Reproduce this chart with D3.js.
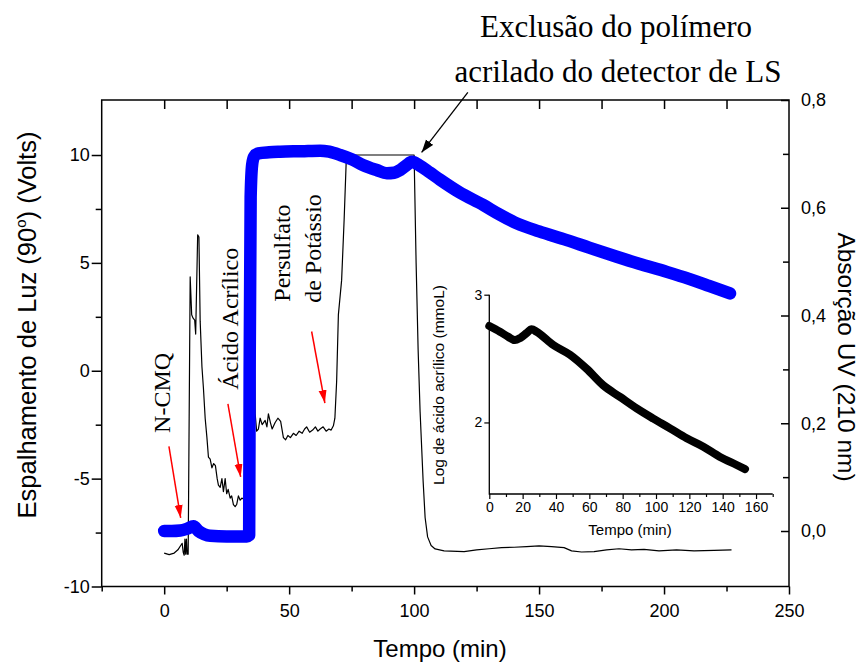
<!DOCTYPE html>
<html>
<head>
<meta charset="utf-8">
<script src="https://cdn.jsdelivr.net/npm/d3@7"></script>
<style>
  body { margin: 0; background: #fff; }
</style>
</head>
<body>
<script>
// light scattering signal, left axis (Volts)
const lsTime = [0, 2, 4, 5.5, 6.6, 7.2, 7.6, 8.0, 8.3, 8.6, 8.9, 9.2, 9.6, 10.4, 11.0, 11.5, 12.2, 12.6, 13.4, 13.9,
  14.4, 15.1, 15.7, 16.4, 17.1, 17.7, 18.4, 19.1, 19.8, 20.5, 21.2, 21.7, 22.4, 23.1, 23.7, 24.4, 25.0, 25.6, 26.4, 27.0,
  27.7, 28.4, 29.0, 29.7, 30.4, 31.1, 31.7, 33.0, 34.2, 34.6, 35.6, 36.4, 37.0, 37.7, 38.4, 39.2, 40.4, 41.1, 41.7, 42.5,
  43.2, 44.4, 45.5, 46.6, 47.7, 48.6, 49.5, 50.5, 51.7, 52.8, 54, 55.2, 56.2, 57, 58.2, 59.4, 60.5, 61.5, 62.4, 63.6,
  64.8, 65.9, 66.8, 67.7, 68.3, 69.0, 69.7, 71.0, 72.0, 72.8, 73.2, 100, 100.8, 101.6, 102.4, 103.6, 104.4, 105.4, 106.8, 108.4,
  112, 120, 125, 130, 135, 140, 145, 150, 155, 160, 163, 167, 172, 177, 182, 187, 192, 198, 205, 212, 220, 227];
const lsVolts = [-8.45, -8.52, -8.45, -8.3, -8.1, -8.0, -8.4, -8.55, -7.8, -8.5, -7.8, -8.5, -8.5, 4.35, 2.6, 2.45, 2.35, 1.7, 6.3, 6.2,
  2.3, 0.2, -0.8, -2.2, -3.1, -4.0, -4.1, -4.5, -4.3, -4.4, -5.0, -5.3, -5.4, -5.0, -5.6, -5.0, -5.7, -5.5, -5.9, -5.8,
  -6.2, -6.3, -6.2, -5.8, -6.0, -5.9, -5.95, -5.9, -5.8, 10, 10, -2.0, -2.8, -2.7, -2.2, -2.5, -2.3, -2.6, -2.0, -2.4,
  -2.7, -2.4, -2.2, -2.35, -3.1, -3.2, -3.0, -3.1, -2.9, -3.0, -2.8, -2.9, -2.7, -2.6, -2.85, -2.75, -2.6, -2.8, -2.7, -2.6,
  -2.8, -2.7, -2.75, -2.55, -2.2, -0.5, 2.6, 4.2, 7.0, 9.6, 10, 10, 5, 1, -1.9, -5.1, -6.8, -7.7, -8.1, -8.26,
  -8.35, -8.38, -8.3, -8.25, -8.2, -8.18, -8.15, -8.12, -8.15, -8.2, -8.35, -8.4, -8.38, -8.3, -8.25, -8.3, -8.28, -8.35, -8.3, -8.35, -8.33, -8.3];

// UV absorption at 210 nm, right axis
const uvTime = [0, 3, 6.4, 9, 11.7, 13.7, 16, 18.4, 25, 33.1, 34, 34.2, 34.6, 35.2, 36, 37.7, 42, 46.4, 55, 62.4,
  66, 70.4, 75, 79.7, 85, 89.1, 92, 94.4, 97, 99.1, 102, 106.4, 110.4, 118, 127.7, 134, 141.1, 150, 161.1, 170,
  181.1, 190, 201.1, 210, 218, 226.4];
const uvAbs = [0, 0, 0.001, 0.004, 0.009, 0.0, -0.006, -0.009, -0.010, -0.010, -0.008, 0.3, 0.62, 0.68, 0.695, 0.701, 0.703, 0.704, 0.705, 0.706,
  0.704, 0.698, 0.69, 0.679, 0.670, 0.664, 0.665, 0.670, 0.679, 0.6855, 0.679, 0.665, 0.652, 0.629, 0.605, 0.588, 0.571, 0.556, 0.540, 0.526,
  0.509, 0.496, 0.481, 0.468, 0.455, 0.441];

// inset: log of acrylic acid
const insetTime = [0, 6.4, 11.4, 15.4, 18.4, 22.4, 25.4, 28.4, 38.4, 48.4, 58.4, 68.4, 78.4, 88.4, 98.4, 108.4, 118.4, 128.4, 138.4, 148.4, 153.4];
const insetLog = [2.755, 2.71, 2.67, 2.645, 2.66, 2.70, 2.73, 2.71, 2.606, 2.53, 2.42, 2.29, 2.20, 2.11, 2.03, 1.954, 1.876, 1.81, 1.73, 1.667, 1.635];

const xTickLabels = [0, 50, 100, 150, 200, 250];
const xMinorTicks = [-25, 25, 75, 125, 175, 225];
const topTicks = [0, 25, 50, 75, 100, 125, 150, 175, 200, 225];
const yLeftTicks = [-10, -5, 0, 5, 10];
const yLeftMinor = [-7.5, -2.5, 2.5, 7.5];
const yRightTicks = [0, 0.2, 0.4, 0.6, 0.8];
const yRightMinor = [0.1, 0.3, 0.5, 0.7];
const insetXTicks = [0, 20, 40, 60, 80, 100, 120, 140, 160];
const insetXMinor = [10, 30, 50, 70, 90, 110, 130, 150, 170];
const insetYTicks = [2, 3];

const sans = '"Liberation Sans", Arial, sans-serif';
const serif = '"Liberation Serif", "Times New Roman", serif';

const svg = d3.select('body').append('svg')
    .attr('width', 861)
    .attr('height', 662);

const x = d3.scaleLinear().domain([-25, 250]).range([101.7, 789]);
const yL = d3.scaleLinear().domain([-10, 12.55]).range([586.5, 100]);
const yR = d3.scaleLinear().domain([-0.103, 0.8]).range([586.5, 100]);

const comma = d => d3.format('.1f')(d).replace('.', ',');
const plain = d => String(d);

function styleAxis(g, size) {
  g.select('.domain').remove();
  g.attr('font-family', sans).attr('font-size', size);
  g.selectAll('line').attr('stroke', '#000').attr('stroke-width', 1.5);
  g.selectAll('text').attr('fill', '#000');
}

// markers for arrows
const defs = svg.append('defs');
defs.append('marker').attr('id', 'redhead')
    .attr('markerUnits', 'userSpaceOnUse')
    .attr('markerWidth', 14).attr('markerHeight', 10)
    .attr('refX', 13).attr('refY', 4).attr('orient', 'auto')
  .append('path').attr('d', 'M0,0 L13,4 L0,8 Z').attr('fill', '#ff0000');
defs.append('marker').attr('id', 'blackhead')
    .attr('markerUnits', 'userSpaceOnUse')
    .attr('markerWidth', 14).attr('markerHeight', 10)
    .attr('refX', 13).attr('refY', 4.5).attr('orient', 'auto')
  .append('path').attr('d', 'M0,0 L13,4.5 L0,9 Z').attr('fill', '#000');

// axes
const yBottom = yL(-10);
svg.append('g').attr('transform', 'translate(0,' + yBottom + ')')
    .call(d3.axisBottom(x).tickValues(xMinorTicks).tickSize(5).tickFormat(''))
    .call(g => styleAxis(g, 18));
svg.append('g').attr('transform', 'translate(0,' + yBottom + ')')
    .call(d3.axisBottom(x).tickValues(xTickLabels).tickSize(8).tickPadding(10).tickFormat(plain))
    .call(g => styleAxis(g, 18));
svg.append('g').attr('transform', 'translate(0,' + yL(12.55) + ')')
    .call(d3.axisTop(x).tickValues(topTicks).tickSize(-9).tickFormat(''))
    .call(g => styleAxis(g, 18));

svg.append('g').attr('transform', 'translate(' + x(-25) + ',0)')
    .call(d3.axisLeft(yL).tickValues(yLeftMinor).tickSize(6).tickFormat(''))
    .call(g => styleAxis(g, 18));
svg.append('g').attr('transform', 'translate(' + x(-25) + ',0)')
    .call(d3.axisLeft(yL).tickValues(yLeftTicks).tickSize(10).tickPadding(2).tickFormat(plain))
    .call(g => styleAxis(g, 18));

svg.append('g').attr('transform', 'translate(' + x(250) + ',0)')
    .call(d3.axisRight(yR).tickValues(yRightMinor).tickSize(-6).tickFormat(''))
    .call(g => styleAxis(g, 18));
svg.append('g').attr('transform', 'translate(' + x(250) + ',0)')
    .call(d3.axisRight(yR).tickValues(yRightTicks).tickSize(-8).tickPadding(12).tickFormat(comma))
    .call(g => styleAxis(g, 18));

// frame
svg.append('rect')
    .attr('x', x(-25)).attr('y', yL(12.55))
    .attr('width', x(250) - x(-25)).attr('height', yL(-10) - yL(12.55))
    .attr('fill', 'none').attr('stroke', '#000').attr('stroke-width', 1.5);

// axis titles
svg.append('text')
    .attr('x', 440).attr('y', 657)
    .attr('text-anchor', 'middle')
    .attr('font-family', sans).attr('font-size', 24)
    .text('Tempo (min)');

const leftTitle = svg.append('text')
    .attr('transform', 'translate(36,325) rotate(-90)')
    .attr('text-anchor', 'middle')
    .attr('font-family', sans).attr('font-size', 25.5);
leftTitle.append('tspan').text('Espalhamento de Luz (90');
leftTitle.append('tspan').attr('font-size', 15).attr('dy', -10).text('o');
leftTitle.append('tspan').attr('dy', 10).text(') (Volts)');

svg.append('text')
    .attr('transform', 'translate(838,357) rotate(90)')
    .attr('text-anchor', 'middle')
    .attr('font-family', sans).attr('font-size', 24.5)
    .text('Absorção UV (210 nm)');

// light scattering trace
const lsData = lsTime.map((t, i) => [t, lsVolts[i]]);
svg.append('path')
    .datum(lsData)
    .attr('fill', 'none')
    .attr('stroke', '#000')
    .attr('stroke-width', 1.2)
    .attr('stroke-linejoin', 'round')
    .attr('d', d3.line().x(d => x(d[0])).y(d => yL(d[1])));

// UV trace (thick blue)
const uvData = uvTime.map((t, i) => [t, uvAbs[i]]);
svg.append('path')
    .datum(uvData)
    .attr('fill', 'none')
    .attr('stroke', '#0000ff')
    .attr('stroke-width', 12.5)
    .attr('stroke-linecap', 'round')
    .attr('stroke-linejoin', 'round')
    .attr('d', d3.line().curve(d3.curveMonotoneX).x(d => x(d[0])).y(d => yR(d[1])));

// inset
const ix = d3.scaleLinear().domain([0, 170]).range([489.3, 772.7]);
const iy = d3.scaleLinear().domain([1.44, 3.0]).range([494, 294.7]);

const inset = svg.append('g');
inset.append('g').attr('transform', 'translate(0,' + iy(1.44) + ')')
    .call(d3.axisBottom(ix).tickValues(insetXMinor).tickSize(3).tickFormat(''))
    .call(g => styleAxis(g, 14));
inset.append('g').attr('transform', 'translate(0,' + iy(1.44) + ')')
    .call(d3.axisBottom(ix).tickValues(insetXTicks).tickSize(5).tickPadding(3).tickFormat(plain))
    .call(g => styleAxis(g, 14));
inset.append('g').attr('transform', 'translate(' + ix(0) + ',0)')
    .call(d3.axisLeft(iy).tickValues(insetYTicks).tickSize(5).tickPadding(2).tickFormat(plain))
    .call(g => styleAxis(g, 14));
inset.selectAll('line').attr('stroke-width', 1.2);

inset.append('path')
    .attr('d', 'M' + ix(0) + ',' + iy(3.0) + 'V' + iy(1.44) + 'H' + ix(170))
    .attr('fill', 'none').attr('stroke', '#000').attr('stroke-width', 1.3);

inset.append('text')
    .attr('x', 630).attr('y', 535)
    .attr('text-anchor', 'middle')
    .attr('font-family', sans).attr('font-size', 15)
    .text('Tempo (min)');
inset.append('text')
    .attr('transform', 'translate(444,385) rotate(-90)')
    .attr('text-anchor', 'middle')
    .attr('font-family', sans).attr('font-size', 15.5)
    .text('Log de ácido acrílico (mmoL)');

const insetData = insetTime.map((t, i) => [t, insetLog[i]]);
inset.append('path')
    .datum(insetData)
    .attr('fill', 'none')
    .attr('stroke', '#000')
    .attr('stroke-width', 8)
    .attr('stroke-linecap', 'round')
    .attr('stroke-linejoin', 'round')
    .attr('d', d3.line().curve(d3.curveMonotoneX).x(d => ix(d[0])).y(d => iy(d[1])));

// annotations (in data units of the left axis)
const rotLabels = [
  { t: 2.3, v: -2.88, text: 'N-CMQ' },
  { t: 29.5, v: -0.88, text: 'Ácido Acrílico' },
  { t: 50.3, v: 3.2, text: 'Persulfato' },
  { t: 62.7, v: 3.15, text: 'de Potássio' }
];
svg.selectAll('.rotlab')
    .data(rotLabels)
    .enter().append('text')
    .attr('class', 'rotlab')
    .attr('transform', d => 'translate(' + x(d.t) + ',' + yL(d.v) + ') rotate(-90)')
    .attr('font-family', serif).attr('font-size', 24)
    .text(d => d.text);

const redArrows = [
  [[1.9, -3.5], [6.6, -6.82]],
  [[25.5, -1.53], [30.6, -4.92]],
  [[59, 1.82], [64.3, -1.5]]
];
svg.selectAll('.redarrow')
    .data(redArrows)
    .enter().append('line')
    .attr('class', 'redarrow')
    .attr('x1', d => x(d[0][0])).attr('y1', d => yL(d[0][1]))
    .attr('x2', d => x(d[1][0])).attr('y2', d => yL(d[1][1]))
    .attr('stroke', '#ff0000').attr('stroke-width', 1.5)
    .attr('marker-end', 'url(#redhead)');

svg.append('line')
    .attr('x1', x(121.5)).attr('y1', yL(12.9))
    .attr('x2', x(103)).attr('y2', yL(10.12))
    .attr('stroke', '#000').attr('stroke-width', 1.3)
    .attr('marker-end', 'url(#blackhead)');

const titleLines = ['Exclusão do polímero', 'acrilado do detector de LS'];
svg.selectAll('.title')
    .data(titleLines)
    .enter().append('text')
    .attr('class', 'title')
    .attr('x', (d, i) => i === 0 ? 616 : 618)
    .attr('y', (d, i) => i === 0 ? 37 : 82)
    .attr('text-anchor', 'middle')
    .attr('font-family', serif).attr('font-size', 31)
    .text(d => d);
</script>
</body>
</html>
